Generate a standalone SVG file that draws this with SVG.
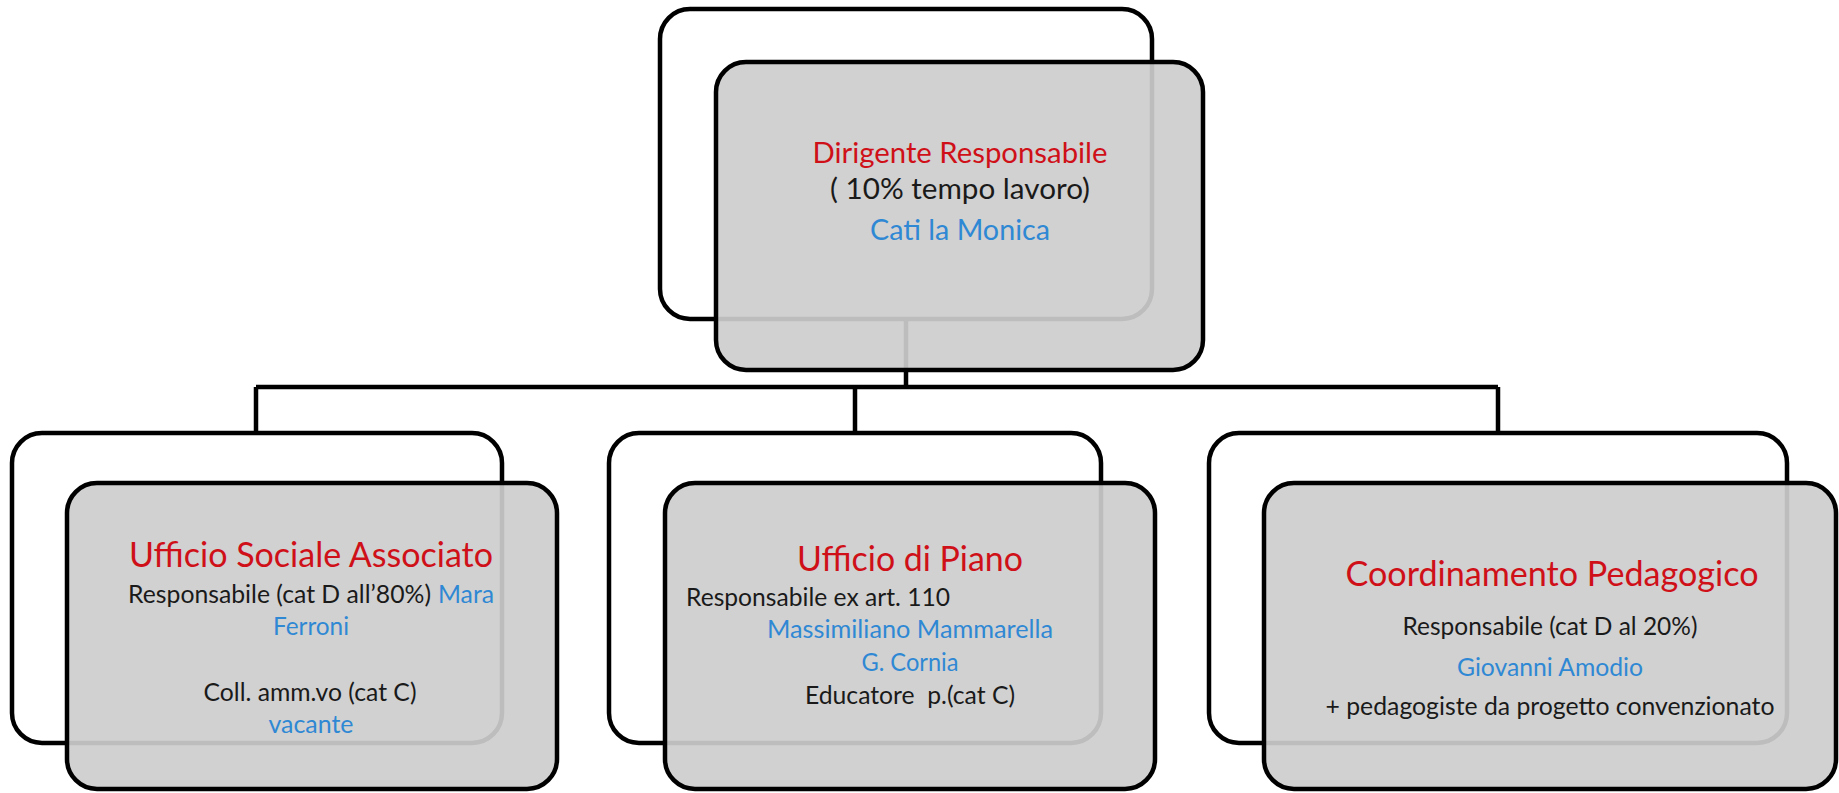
<svg xmlns="http://www.w3.org/2000/svg" width="1839" height="793" viewBox="0 0 1839 793">
<style>
.back{fill:#ffffff;stroke:#000;stroke-width:4.5}
.front{fill:#cdcdcd;fill-opacity:0.92;stroke:#000;stroke-width:4.5}
.conn{stroke:#000;stroke-width:4.5;fill:none}
text{font-family:Lato,"Open Sans","Liberation Sans",sans-serif;text-anchor:middle}
.t{font-size:29px}
.h{font-size:34px}
.b{font-size:25px}
.red{fill:#cf1018}
.blk{fill:#1a1a1a}
.blu{fill:#2f88d4}
</style>
<rect width="1839" height="793" fill="#ffffff"/>
<g id="connectors">
<path class="conn" d="M906 319V387M256 387H1498M256 387V433M855 387V433M1498 387V433"/>
</g>
<g id="node-dirigente">
<rect class="back" x="660" y="9" width="492" height="310" rx="30"/>
<rect class="front" x="716" y="62" width="487" height="308" rx="30"/>
<text class="t red" x="960" y="163" textLength="295" lengthAdjust="spacingAndGlyphs">Dirigente Responsabile</text>
<text class="t blk" x="960" y="199" textLength="260" lengthAdjust="spacingAndGlyphs">( 10% tempo lavoro)</text>
<text class="t blu" x="960" y="240" textLength="180" lengthAdjust="spacingAndGlyphs">Cati la Monica</text>
</g>
<g id="node-ufficio-sociale">
<rect class="back" x="12" y="433" width="490" height="310" rx="30"/>
<rect class="front" x="67" y="483" width="490" height="306" rx="30"/>
<text class="h red" x="311" y="567" textLength="364" lengthAdjust="spacingAndGlyphs">Ufficio Sociale Associato</text>
<text class="b blk" x="128" y="603" style="text-anchor:start" textLength="303" lengthAdjust="spacingAndGlyphs">Responsabile (cat D all’80%)</text>
<text class="b blu" x="438" y="603" style="text-anchor:start" textLength="56" lengthAdjust="spacingAndGlyphs">Mara</text>
<text class="b blu" x="311" y="635" textLength="76" lengthAdjust="spacingAndGlyphs">Ferroni</text>
<text class="b blk" x="310" y="701" textLength="213" lengthAdjust="spacingAndGlyphs">Coll. amm.vo (cat C)</text>
<text class="b blu" x="311" y="733" textLength="85" lengthAdjust="spacingAndGlyphs">vacante</text>
</g>
<g id="node-ufficio-piano">
<rect class="back" x="609" y="433" width="492" height="310" rx="30"/>
<rect class="front" x="665" y="483" width="490" height="306" rx="30"/>
<text class="h red" x="910" y="571" textLength="226" lengthAdjust="spacingAndGlyphs">Ufficio di Piano</text>
<text class="b blk" x="686" y="606" style="text-anchor:start" textLength="264" lengthAdjust="spacingAndGlyphs">Responsabile ex art. 110</text>
<text class="b blu" x="910" y="638" textLength="286" lengthAdjust="spacingAndGlyphs">Massimiliano Mammarella</text>
<text class="b blu" x="910" y="671" textLength="97" lengthAdjust="spacingAndGlyphs">G. Cornia</text>
<text class="b blk" x="910" y="704" xml:space="preserve" textLength="210" lengthAdjust="spacingAndGlyphs">Educatore  p.(cat C)</text>
</g>
<g id="node-coordinamento">
<rect class="back" x="1209" y="433" width="578" height="310" rx="30"/>
<rect class="front" x="1264" y="483" width="572" height="306" rx="30"/>
<text class="h red" x="1552" y="586" textLength="413" lengthAdjust="spacingAndGlyphs">Coordinamento Pedagogico</text>
<text class="b blk" x="1550" y="635" textLength="295" lengthAdjust="spacingAndGlyphs">Responsabile (cat D al 20%)</text>
<text class="b blu" x="1550" y="676" textLength="186" lengthAdjust="spacingAndGlyphs">Giovanni Amodio</text>
<text class="b blk" x="1550" y="715" textLength="449" lengthAdjust="spacingAndGlyphs">+ pedagogiste da progetto convenzionato</text>
</g>
</svg>
